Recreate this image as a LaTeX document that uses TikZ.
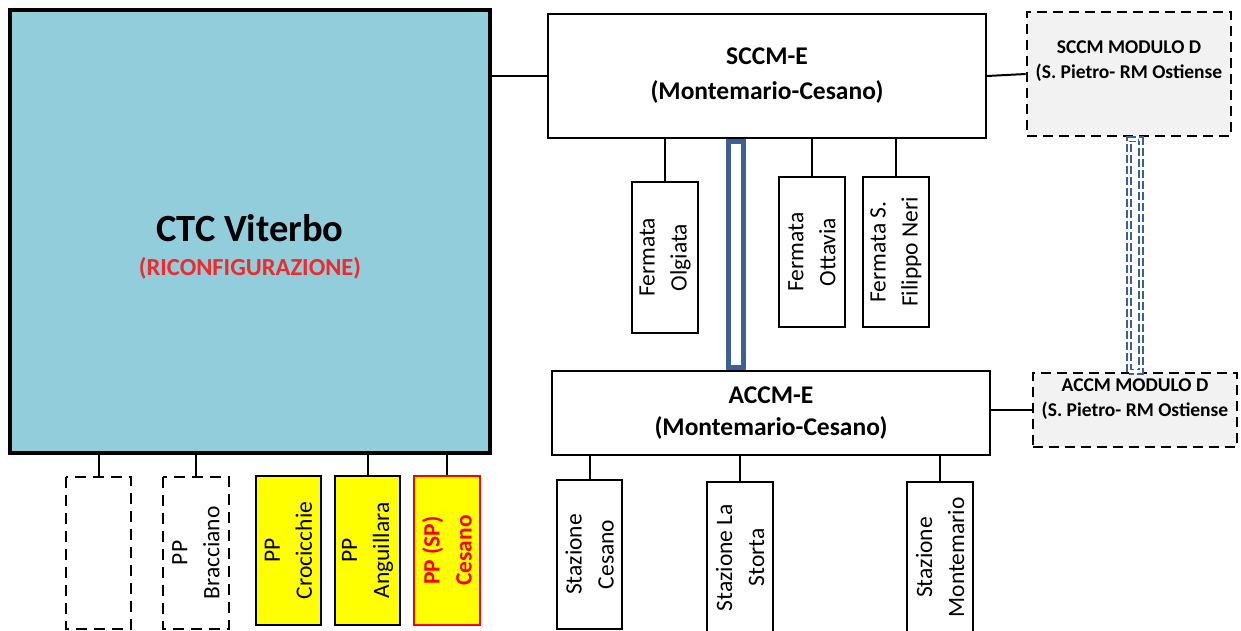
\documentclass[tikz,border=0pt]{standalone}
\usepackage{fontspec}
\setmainfont{Carlito}
\usetikzlibrary{calc}

\definecolor{ctcblue}{HTML}{92CDDC}
\definecolor{linkblue}{HTML}{3C6096}
\definecolor{modgray}{HTML}{F2F2F2}
\definecolor{ppyellow}{HTML}{FFFF00}
\definecolor{ppred}{HTML}{FF0000}
\definecolor{riconfred}{HTML}{EE2A2A}

\begin{document}
\begin{tikzpicture}[x=1pt,y=-1pt,
  box/.style={draw,line width=2pt,inner sep=0pt},
  vbox/.style={box,rotate=90,minimum height=66pt,align=center,font=\fontsize{23.5}{32}\selectfont},
  dbox/.style={vbox,dash pattern=on 11pt off 7pt},
  ppbox/.style={vbox,fill=ppyellow},
  modulo/.style={box,line width=2.6pt,fill=modgray,dash pattern=on 10pt off 6pt,minimum width=204pt},
  modtext/.style={align=center,font=\fontsize{19.5}{25}\selectfont\bfseries},
  cc/.style={line width=2pt}]
 \clip (0,0) rectangle (1241,631);
 % main boxes
 \node[box,line width=4pt,fill=ctcblue,minimum width=480pt,minimum height=443pt] (ctc) at (250,231.5) {};
 \node[font=\fontsize{38.5}{40}\selectfont\bfseries] (ctctitle) at (250,228) {CTC Viterbo};
 \node[font=\fontsize{24.5}{28}\selectfont\bfseries,text=riconfred] (ctcsub) at (250,268) {(RICONFIGURAZIONE)};
 \node[box,minimum width=438pt,minimum height=124pt,align=center,font=\fontsize{25.5}{35}\selectfont\bfseries] (sccm) at (767,76) {SCCM-E\\(Montemario-Cesano)};
 \node[box,minimum width=438pt,minimum height=84pt,align=center,font=\fontsize{25.5}{32}\selectfont\bfseries] (accm) at (771,413) {ACCM-E\\(Montemario-Cesano)};
 \node[modulo,minimum height=124pt] (modS) at (1129,74) {};
 \node[modtext] (modStext) at (1129,61.5) {SCCM MODULO D\\(S. Pietro- RM Ostiense};
 \node[modulo,minimum height=74pt] (modA) at (1135,410) {};
 \node[modtext] (modAtext) at (1135,399) {ACCM MODULO D\\(S. Pietro- RM Ostiense};
 % fermate
 \node[vbox,minimum width=151pt] (olg) at (665,257.5) {Fermata\\Olgiata};
 \node[vbox,minimum width=150pt] (ott) at (812,252) {Fermata\\Ottavia};
 \node[vbox,minimum width=150pt] (fil) at (896,252) {Fermata S.\\Filippo Neri};
 % PP
 \node[dbox,minimum width=152pt,minimum height=65pt] (vuoto) at (98.5,553) {};
 \node[dbox,minimum width=152pt] (bra) at (196,553) {PP\\Bracciano};
 \node[ppbox,minimum width=149pt,minimum height=65pt] (cro) at (288.5,550.5) {PP\\Crocicchie};
 \node[ppbox,minimum width=149pt,minimum height=65pt] (ang) at (367.5,550.5) {PP\\Anguillara};
 \node[ppbox,minimum width=149pt,draw=ppred,text=ppred,font=\fontsize{23.5}{32}\selectfont\bfseries] (ces) at (447,550.5) {PP (SP)\\Cesano};
 % stazioni
 \node[vbox,minimum width=149pt,minimum height=65pt] (stces) at (589.5,554.5) {Stazione\\Cesano};
 \node[vbox,minimum width=151pt] (ststo) at (740,557.5) {Stazione La\\Storta};
 \node[vbox,minimum width=151pt] (stmon) at (940,557.5) {Stazione\\Montemario};
 % connections
 \draw[cc] (ctc.east |- sccm.west) -- (sccm.west);
 \draw[cc] (sccm.east) -- (modS.west);
 \draw[cc] (accm.east |- modA.west) -- (modA.west);
 \foreach \n in {olg,ott,fil}
  \draw[cc] (\n.east) -- (\n.east |- sccm.south);
 \foreach \n in {vuoto,bra,ang,ces}
  \draw[cc] (\n.east) -- (\n.east |- ctc.south);
 \foreach \n in {stces,ststo,stmon}
  \draw[cc] (\n.east) -- (\n.east |- accm.south);
 % links
 \coordinate (lkl) at (728.5,0);
 \coordinate (lkr) at (743.5,0);
 \draw[linkblue,line width=5pt] ($(lkl |- sccm.south)+(0,3)$) rectangle ($(lkr |- accm.north)+(0,-3)$);
 \draw[linkblue,line width=1.8pt,double=white,double distance=2.5pt,dash pattern=on 8pt off 3pt]
  ($(modA.north)+(-6,0)$) rectangle ($(modA.north |- modS.south)+(6,2)$);
\end{tikzpicture}
\end{document}
